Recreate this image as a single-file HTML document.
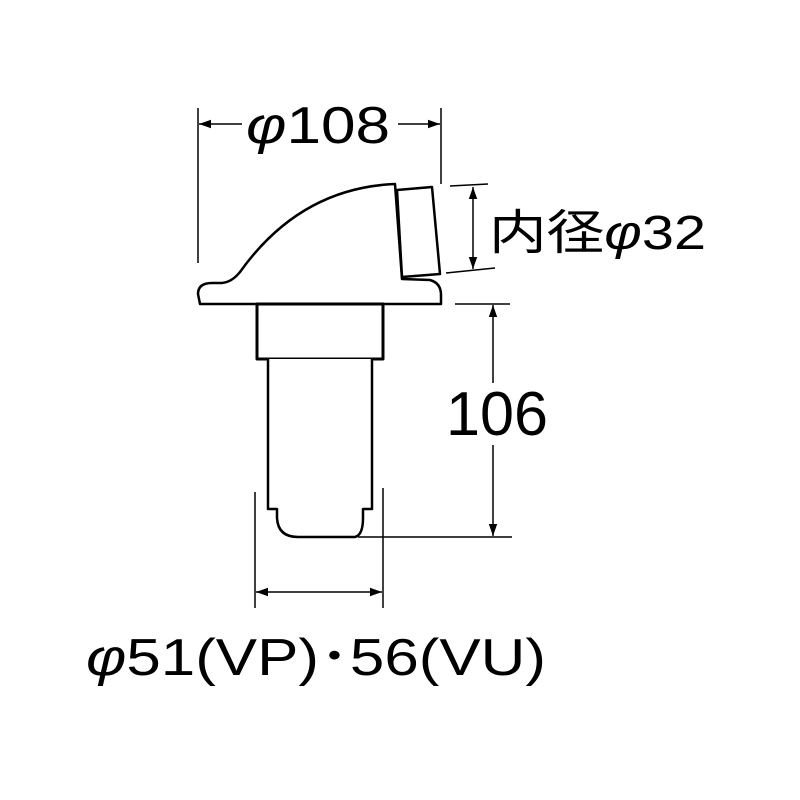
<!DOCTYPE html>
<html><head><meta charset="utf-8"><style>html,body{margin:0;padding:0;background:#fff}svg{display:block}</style></head>
<body>
<svg width="800" height="800" viewBox="0 0 800 800" xmlns="http://www.w3.org/2000/svg">
<defs>
<marker id="a" viewBox="0 0 10 10" refX="10" refY="5" markerWidth="12" markerHeight="12" markerUnits="userSpaceOnUse" orient="auto-start-reverse"><path d="M0,1.5 L10,5 L0,8.5 z" fill="#000"/></marker>
</defs>
<g fill="none" stroke="#000" stroke-width="1.5">
<!-- phi108 dimension -->
<line x1="198" y1="108" x2="198" y2="263"/>
<line x1="441" y1="108" x2="441" y2="184"/>
<line x1="199" y1="124" x2="242" y2="124" marker-start="url(#a)"/>
<line x1="398" y1="124" x2="440" y2="124" marker-end="url(#a)"/>
<!-- phi32 -->
<line x1="450" y1="186" x2="488" y2="184"/>
<line x1="446" y1="273" x2="495" y2="268"/>
<line x1="473" y1="187" x2="473" y2="269" marker-start="url(#a)" marker-end="url(#a)"/>
<!-- 106 -->
<line x1="455" y1="304" x2="510" y2="304"/>
<line x1="358" y1="537" x2="512" y2="537"/>
<line x1="493" y1="305" x2="493" y2="383" marker-start="url(#a)"/>
<line x1="493" y1="445" x2="493" y2="536" marker-end="url(#a)"/>
<!-- width -->
<line x1="255" y1="492" x2="255" y2="608"/>
<line x1="383" y1="488" x2="383" y2="608"/>
<line x1="256" y1="592" x2="382" y2="592" marker-start="url(#a)" marker-end="url(#a)"/>
</g>
<g fill="#fff" stroke="#000" stroke-width="2.5" stroke-linejoin="round">
<!-- body -->
<path d="M200,304 L198,294 Q198,283 212,283 L222,283 Q232,282 240,272 Q300,188 395,184 L402,279 L430,280 Q441,283 441,295 L441,304 Z"/>
<path d="M397,190 L432,187 L440,274 L402,277 Z"/>
<rect x="257" y="304" width="126" height="55" stroke-width="3"/>
<path d="M268,359 L268,509 L277,509 L277,518 Q278,537 298,537 L355,537 Q363,535 363,518 L363,509 L372,509 L372,359"/>
</g>
<g font-family="Liberation Sans, Noto Sans CJK JP, sans-serif" fill="#000">
<text x="246" y="143" font-size="52" textLength="144" lengthAdjust="spacingAndGlyphs"><tspan font-style="italic">φ</tspan>108</text>
<text x="489" y="249" font-size="48" textLength="217" lengthAdjust="spacingAndGlyphs">内径<tspan font-style="italic">φ</tspan>32</text>
<text x="446" y="435" font-size="62" textLength="102" lengthAdjust="spacingAndGlyphs">106</text>
<text x="86" y="675" font-size="52" textLength="460" lengthAdjust="spacingAndGlyphs"><tspan font-style="italic">φ</tspan>51(VP)･56(VU)</text>
</g>
</svg>
</body></html>
